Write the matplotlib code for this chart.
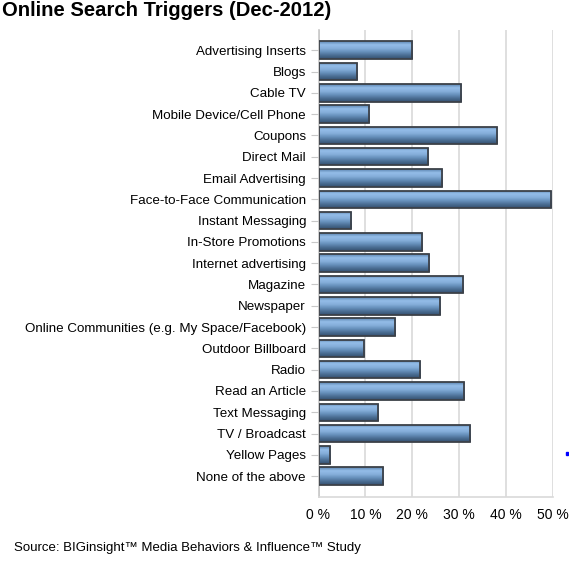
import numpy as np
import matplotlib
matplotlib.use("Agg")
import matplotlib.pyplot as plt
from matplotlib.colors import LinearSegmentedColormap

categories = [
    "Advertising Inserts", "Blogs", "Cable TV", "Mobile Device/Cell Phone",
    "Coupons", "Direct Mail", "Email Advertising", "Face-to-Face Communication",
    "Instant Messaging", "In-Store Promotions", "Internet advertising",
    "Magazine", "Newspaper", "Online Communities (e.g. My Space/Facebook)",
    "Outdoor Billboard", "Radio", "Read an Article", "Text Messaging",
    "TV / Broadcast", "Yellow Pages", "None of the above",
]
values = [20.0, 8.3, 30.3, 10.7, 38.0, 23.4, 26.4, 49.6, 6.9, 22.1, 23.6,
          30.9, 25.8, 16.3, 9.6, 21.6, 31.1, 12.6, 32.3, 2.5, 13.8]
xticks = [0, 10, 20, 30, 40, 50]
xtick_labels = ["0 %", "10 %", "20 %", "30 %", "40 %", "50 %"]

plt.rcParams['font.family'] = ['Liberation Sans', 'DejaVu Sans']

fig = plt.figure(figsize=(5.69, 5.66), dpi=100)
ax = fig.add_axes([318.5 / 569, 1 - 497 / 566, (553 - 318.5) / 569, (497 - 30) / 566])

# steel blue gradient: light band near top, dark at bottom
grad = LinearSegmentedColormap.from_list(
    "bar", ["#5a84b0", "#94bde8", "#86afdb", "#6690bb", "#4a6d93", "#34506f"])
gradient = np.linspace(0, 1, 64).reshape(-1, 1)

ypos = np.arange(len(categories))
bars = ax.barh(ypos, values, height=0.82, color="none", edgecolor="#3c4148",
               linewidth=1.3, zorder=3)
for b in bars:
    x0, y0 = b.get_x(), b.get_y()
    w, h = b.get_width(), b.get_height()
    im = ax.imshow(gradient, cmap=grad, aspect="auto", zorder=2,
                   extent=[x0, x0 + w, y0 + h, y0], origin="upper")
    im.set_clip_path(b)

ax.set_xlim(0, 50)
ax.set_ylim(20.98, -0.95)
ax.set_xticks(xticks)
ax.set_xticklabels(xtick_labels)
ax.set_yticks(ypos)
ax.set_yticklabels(categories)
ax.tick_params(axis="y", length=6, color="#c8c8c8", labelsize=9.6, pad=3)
ax.tick_params(axis="x", length=0, labelsize=10, pad=8)
ax.grid(axis="x", color="#d9d9d9", linewidth=1.2, zorder=0)
ax.set_axisbelow(True)
for s in ["top", "right"]:
    ax.spines[s].set_visible(False)
ax.spines["left"].set_color("#c8c8c8")
ax.spines["bottom"].set_color("#d9d9d9")
ax.spines["left"].set_linewidth(1.2)
ax.spines["bottom"].set_linewidth(1.2)

fig.text(2 / 569, 1 - 10 / 566, "Online Search Triggers (Dec-2012)",
         fontsize=14.6, fontweight="bold", va="center", ha="left")
fig.text(14 / 569, 1 - 548 / 566,
         "Source: BIGinsight\u2122 Media Behaviors & Influence\u2122 Study",
         fontsize=9.5, va="center", ha="left")
fig.patches.append(plt.Rectangle((566 / 569, 1 - 455 / 566), 2 / 569, 3 / 566,
                                 transform=fig.transFigure, color="#0000ff"))

fig.savefig("out.png", dpi=100)
